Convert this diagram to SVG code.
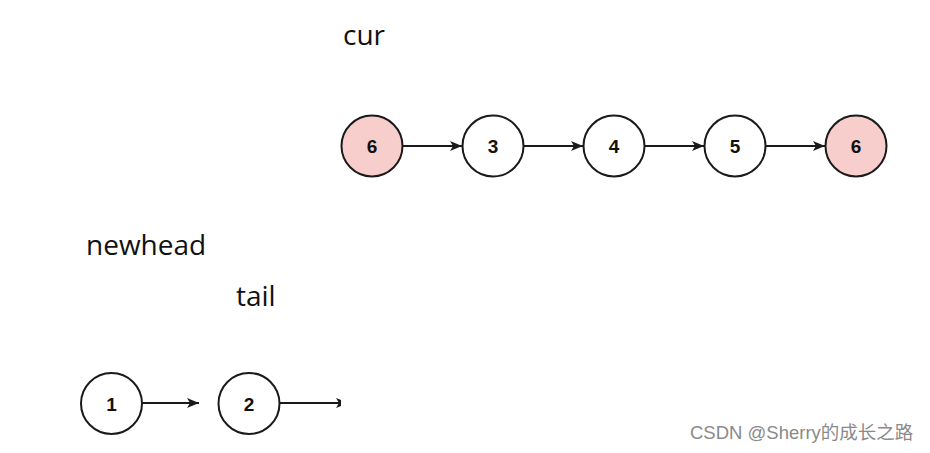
<svg xmlns="http://www.w3.org/2000/svg" width="930" height="453" viewBox="0 0 930 453">
<style>
.node{fill:#ffffff;stroke:#1a1a1a;stroke-width:2}
.hl{fill:#f8cecc}
.num{font-family:"Liberation Sans",Arial,sans-serif;font-weight:bold;font-size:19px;fill:#111;text-anchor:middle}
.lbl{font-family:"Open Sans","Noto Sans",sans-serif;font-size:28px;fill:#111}
.edge{stroke:#1a1a1a;stroke-width:1.8;fill:none}
.wm{font-family:"Liberation Sans","Noto Sans CJK SC",sans-serif;font-size:18.5px;fill:#8a8a8a}
</style>
<defs>
<marker id="ah" markerWidth="13" markerHeight="12" refX="12" refY="5" orient="auto" markerUnits="userSpaceOnUse">
<path d="M0,0 L12,5 L0,10 L3,5 Z" fill="#1a1a1a"/>
</marker>
<clipPath id="cut"><rect x="0" y="0" width="341" height="453"/></clipPath>
</defs>
<rect width="930" height="453" fill="#ffffff"/>
<text class="lbl" x="343" y="45">cur</text>
<text class="lbl" x="86" y="255">newhead</text>
<text class="lbl" x="236" y="306">tail</text>
<g id="connectors">
<line class="edge" x1="403" y1="146" x2="462" y2="146" marker-end="url(#ah)"/>
<line class="edge" x1="524" y1="146" x2="583" y2="146" marker-end="url(#ah)"/>
<line class="edge" x1="645" y1="146" x2="704" y2="146" marker-end="url(#ah)"/>
<line class="edge" x1="766" y1="146" x2="825" y2="146" marker-end="url(#ah)"/>
<line class="edge" x1="142" y1="403" x2="199" y2="403" marker-end="url(#ah)"/>
<g clip-path="url(#cut)">
<line class="edge" x1="280" y1="403" x2="348" y2="403" marker-end="url(#ah)"/>
</g>
</g>
<g id="n6a"><circle class="node hl" cx="372" cy="146" r="30.5"/><text class="num" x="372" y="153">6</text></g>
<g id="n3"><circle class="node" cx="493" cy="146" r="30.5"/><text class="num" x="493" y="153">3</text></g>
<g id="n4"><circle class="node" cx="614" cy="146" r="30.5"/><text class="num" x="614" y="153">4</text></g>
<g id="n5"><circle class="node" cx="735" cy="146" r="30.5"/><text class="num" x="735" y="153">5</text></g>
<g id="n6b"><circle class="node hl" cx="856" cy="146" r="30.5"/><text class="num" x="856" y="153">6</text></g>
<g id="n1"><circle class="node" cx="111.5" cy="403.5" r="30.5"/><text class="num" x="111.5" y="410.5">1</text></g>
<g id="n2"><circle class="node" cx="249" cy="403.5" r="30.5"/><text class="num" x="249" y="410.5">2</text></g>
<text class="wm" x="690" y="439">CSDN @Sherry的成长之路</text>
</svg>
